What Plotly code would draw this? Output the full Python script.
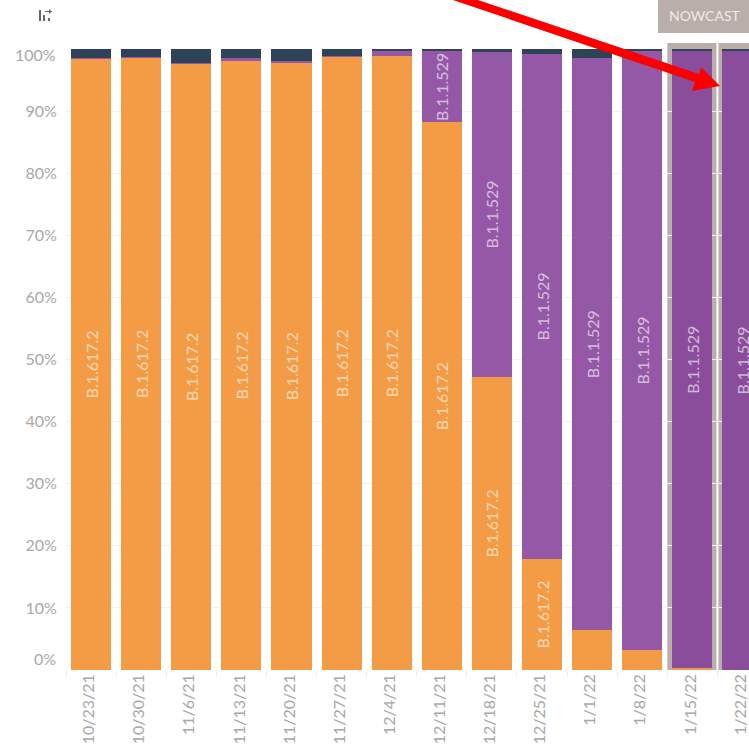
import plotly.graph_objects as go

dates = ["10/23/21","10/30/21","11/6/21","11/13/21","11/20/21","11/27/21","12/4/21",
         "12/11/21","12/18/21","12/25/21","1/1/22","1/8/22","1/15/22","1/22/22"]
delta = [98.4,98.6,97.6,98.1,97.8,98.8,98.8,88.2,47.2,17.9,6.4,3.2,0.3,0.0]
omicron = [0.2,0.1,0.1,0.4,0.2,0.1,0.9,11.4,52.3,81.3,92.1,96.5,99.3,99.7]
other = [1.4,1.3,2.3,1.5,2.0,1.1,0.3,0.4,0.5,0.8,1.5,0.3,0.4,0.3]
y_ticks = [10,20,30,40,50,60,70,80,90]
delta_labelled = set(dates[:10])
omicron_labelled = set(dates[7:])
nowcast = {"1/15/22","1/22/22"}

ORANGE = "#f39c45"; PURPLE = "#9558a7"; NOW_PURPLE = "#8a4d9c"; NAVY = "#2f4358"
NOW_GREY = "#b9aea9"; GREY = "#a8a8a8"; GRID = "#f1f1f1"; LABEL = "rgba(255,255,255,0.62)"
FONT = "Lato, 'Open Sans', sans-serif"

fig = go.Figure()
def add(name, vals, colors, labels=None):
    fig.add_bar(x=dates, y=vals, name=name, marker=dict(color=colors, line_width=0),
                text=labels, textposition="inside" if labels else None, textangle=-90,
                insidetextanchor="middle", constraintext="none",
                textfont=dict(color=LABEL, size=16, family=FONT), cliponaxis=True)

add("B.1.617.2", delta, ORANGE, ["B.1.617.2" if d in delta_labelled else "" for d in dates])
add("B.1.1.529", omicron, [NOW_PURPLE if d in nowcast else PURPLE for d in dates],
    ["B.1.1.529" if d in omicron_labelled else "" for d in dates])
add("Other", other, NAVY)

shapes = []
for a, b in ((11.5, 12.48), (12.52, 13.6)):
    shapes.append(dict(type="rect", layer="between", xref="x", yref="paper", x0=a, x1=b,
                       y0=0, y1=1.0097, fillcolor=NOW_GREY, line_width=0))
W, H = 749, 747
m = dict(l=66, r=0, t=49, b=77)
def fx(v): return (v - m["l"]) / (W - m["l"] - m["r"])
def fy(v): return (H - m["b"] - v) / (H - m["t"] - m["b"])
shapes.append(dict(type="rect", xref="paper", yref="paper", x0=fx(658), x1=fx(749), y0=fy(33), y1=fy(-2),
                   fillcolor=NOW_GREY, line_width=0))
# sort icon
for x0, x1, y0, y1 in ((39, 41, 10, 21), (43, 45, 15, 21), (48, 50, 18, 21)):
    shapes.append(dict(type="rect", xref="paper", yref="paper", x0=fx(x0), x1=fx(x1), y0=fy(y1), y1=fy(y0),
                       fillcolor="#666666", line_width=0))
shapes.append(dict(type="path", xref="paper", yref="paper", fillcolor="#666666", line_width=0,
                   path=f"M{fx(45)},{fy(11)} L{fx(49)},{fy(11)} L{fx(49)},{fy(9)} L{fx(52)},{fy(11.5)} L{fx(49)},{fy(14)} L{fx(49)},{fy(12)} L{fx(45)},{fy(12)} Z"))
# red arrow
shapes.append(dict(type="path", xref="paper", yref="paper", fillcolor="#fb0000", line_width=0,
                   path=" ".join([f"M{fx(447)},{fy(-2)}", f"L{fx(472)},{fy(-2)}", f"L{fx(699)},{fy(74)}",
                                  f"L{fx(701)},{fy(67)}", f"L{fx(720)},{fy(86)}", f"L{fx(692)},{fy(91)}",
                                  f"L{fx(695)},{fy(82)}", "Z"])))

anns = [dict(x=x, y=y, xref="paper", yref="paper", text=t, showarrow=False, xanchor=xa, yanchor="middle",
             font=dict(color=c, size=s, family=FONT))
        for x, y, t, xa, c, s in ((fx(58), fy(54), "100%", "right", GREY, 16),
                                  (fx(58), fy(658), "0%", "right", GREY, 16),
                                  (fx(705), fy(16), "NOWCAST", "center", "#efeae7", 14))]

fig.update_layout(
    width=W, height=H, margin=m, barmode="stack", bargap=0.2, showlegend=False,
    paper_bgcolor="white", plot_bgcolor="white", shapes=shapes, annotations=anns,
    font=dict(family=FONT),
    xaxis=dict(type="category", range=[-0.5, 13.13], tickangle=-90, tickson="boundaries",
               ticks="outside", ticklen=6, tickcolor="#eeeeee", showgrid=False, showline=False, zeroline=False,
               ticklabelshift=-2, tickfont=dict(color=GREY, size=16, family=FONT), automargin=False),
    yaxis=dict(range=[0, 100], tickvals=y_ticks, ticktext=[f"{v}%" for v in y_ticks],
               ticks="outside", ticklen=5, tickcolor="#ffffff", gridcolor=GRID, zeroline=False, showline=False,
               tickfont=dict(color=GREY, size=16, family=FONT), automargin=False),
)
fig.write_html("out.html", config={"displayModeBar": False},
               post_script="document.body.style.margin='0';document.documentElement.style.overflow='hidden';")
